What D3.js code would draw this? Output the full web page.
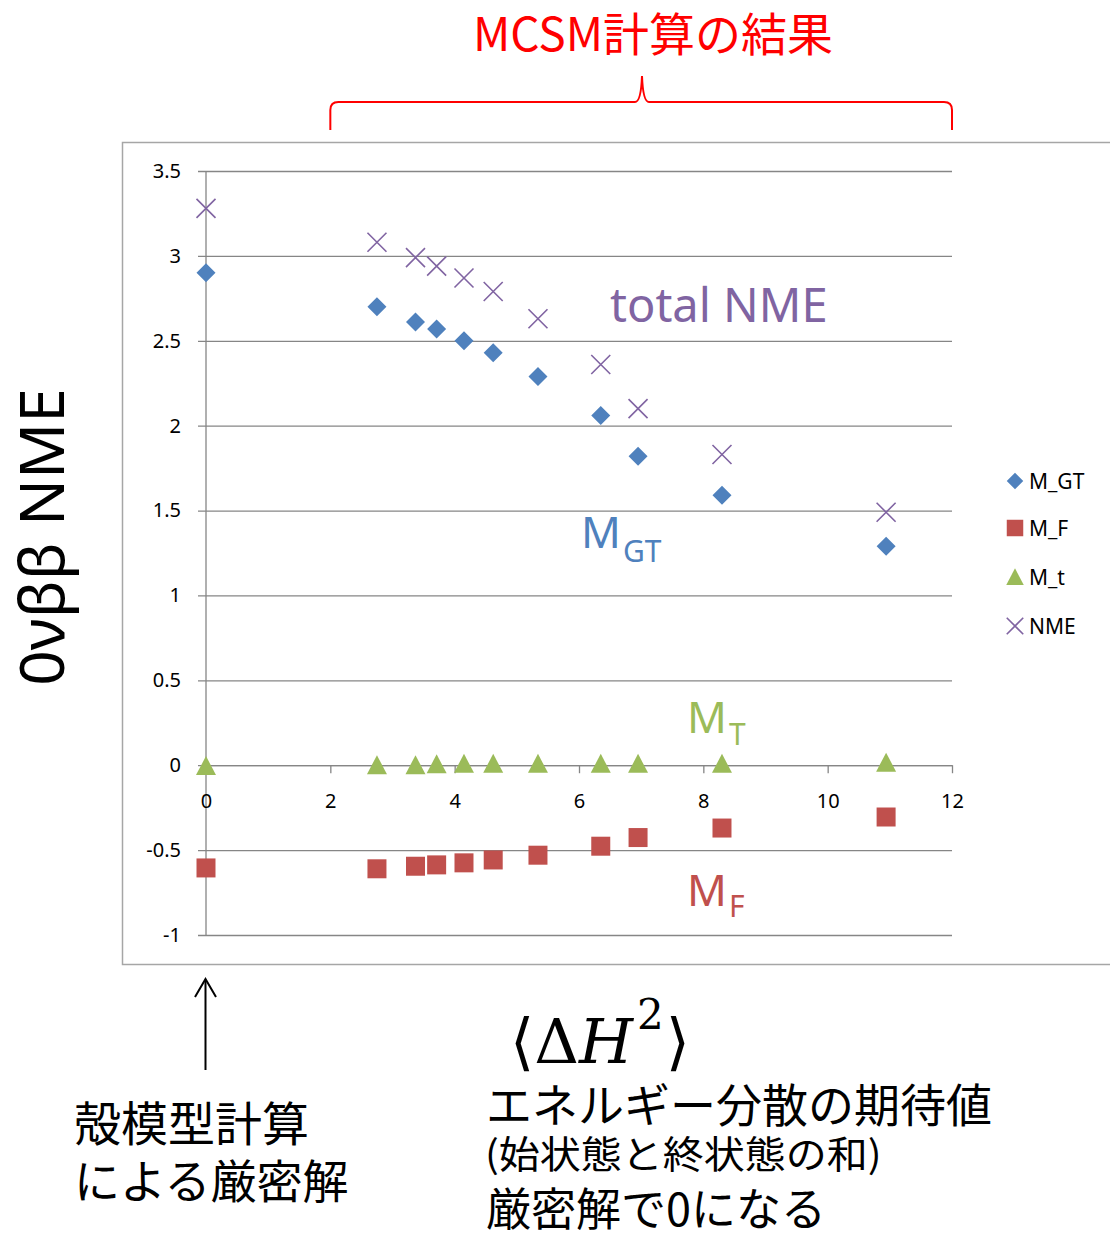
<!DOCTYPE html>
<html lang="ja">
<head>
<meta charset="utf-8">
<title>0vbb NME vs energy variance</title>
<script src="https://d3js.org/d3.v7.min.js"></script>
<style>
  body { margin: 0; background: #fff; }
  text { font-family: "Noto Sans", "Noto Sans CJK JP", sans-serif; }
  .jp { font-family: "Noto Sans CJK JP", "Noto Sans", sans-serif; }
  .grid line { stroke: #868686; stroke-width: 1.3; }
  .axis path, .axis line { stroke: #868686; stroke-width: 1.3; }
  .axis text { font-size: 20px; fill: #000; }
</style>
</head>
<body>
<div id="chart"></div>
<script>
// data
var dH2  = [0, 2.75, 3.37, 3.71, 4.15, 4.62, 5.34, 6.35, 6.95, 8.30, 10.94];
var M_GT = [2.90, 2.70, 2.61, 2.57, 2.50, 2.43, 2.29, 2.06, 1.82, 1.59, 1.29];
var M_F  = [-0.605, -0.61, -0.595, -0.587, -0.575, -0.558, -0.53, -0.477, -0.426, -0.37, -0.305];
var M_t  = [-0.005, 0, 0, 0.005, 0.008, 0.008, 0.008, 0.008, 0.008, 0.008, 0.015];
var NME  = [3.28, 3.08, 2.99, 2.94, 2.87, 2.79, 2.63, 2.36, 2.10, 1.83, 1.49];
var yTicks = [-1, -0.5, 0, 0.5, 1, 1.5, 2, 2.5, 3, 3.5];
var xTicks = [0, 2, 4, 6, 8, 10, 12];
var seriesNames = ["M_GT", "M_F", "M_t", "NME"];

var w = 1110, h = 1238;
var svg = d3.select("#chart").append("svg").attr("width", w).attr("height", h);

var x = d3.scaleLinear().domain([0, 12]).range([206, 952]);
var y = d3.scaleLinear().domain([-1, 3.5]).range([935, 171]);

// marker shapes (size = width in px)
var diamond = { draw: function(c, s) { var r = s / 2; c.moveTo(0, -r); c.lineTo(r, 0); c.lineTo(0, r); c.lineTo(-r, 0); c.closePath(); } };
var square = { draw: function(c, s) { c.rect(-s / 2, -s / 2, s, s); } };
var triangle = { draw: function(c, s) { c.moveTo(0, -s * 0.5); c.lineTo(s / 2, s * 0.45); c.lineTo(-s / 2, s * 0.45); c.closePath(); } };
var cross = { draw: function(c, s) { var r = s / 2; c.moveTo(-r, -r); c.lineTo(r, r); c.moveTo(r, -r); c.lineTo(-r, r); } };

var series = [
  { name: seriesNames[0], values: M_GT, color: "#4F81BD", type: diamond, size: 19, fill: true },
  { name: seriesNames[1], values: M_F, color: "#C0504D", type: square, size: 19, fill: true },
  { name: seriesNames[2], values: M_t, color: "#9BBB59", type: triangle, size: 20, fill: true },
  { name: seriesNames[3], values: NME, color: "#8064A2", type: cross, size: 19, fill: false }
];

// chart frame
svg.append("rect").attr("x", 122.5).attr("y", 142.5).attr("width", 1000).attr("height", 822)
  .attr("fill", "none").attr("stroke", "#A6A6A6").attr("stroke-width", 1.5);

// gridlines + y labels
var yAxis = d3.axisLeft(y).tickValues(yTicks).tickSize(-(952 - 198)).tickPadding(17).tickFormat(function(d) { return String(d); });
var gy = svg.append("g").attr("class", "axis grid").attr("transform", "translate(198,0)").call(yAxis);
gy.select(".domain").remove();

// vertical axis line
svg.append("line").attr("x1", 206).attr("x2", 206).attr("y1", y(3.5)).attr("y2", y(-1))
  .attr("stroke", "#868686").attr("stroke-width", 1.3);

// x axis through zero
var xAxis = d3.axisBottom(x).tickValues(xTicks).tickSize(8).tickSizeOuter(0).tickPadding(21);
svg.append("g").attr("class", "axis").attr("transform", "translate(0," + y(0) + ")").call(xAxis);

// points
series.forEach(function(s) {
  var sym = d3.symbol().type(s.type).size(s.size);
  svg.append("g").selectAll("path").data(s.values).enter().append("path")
    .attr("transform", function(d, i) { return "translate(" + x(dH2[i]) + "," + y(d) + ")"; })
    .attr("d", sym)
    .attr("fill", s.fill ? s.color : "none")
    .attr("stroke", s.fill ? "none" : s.color)
    .attr("stroke-width", 1.6);
});

// legend
var legend = svg.append("g").attr("transform", "translate(1015,0)");
var legendY = [481, 528, 577, 626];
series.forEach(function(s, i) {
  legend.append("path").attr("transform", "translate(0," + legendY[i] + ")")
    .attr("d", d3.symbol().type(s.type).size(s.size - 2.5))
    .attr("fill", s.fill ? s.color : "none")
    .attr("stroke", s.fill ? "none" : s.color).attr("stroke-width", 1.6);
  legend.append("text").attr("x", 14).attr("y", legendY[i]).attr("dy", "0.36em")
    .style("font-size", "21px").attr("fill", "#000").text(s.name);
});

// y axis title
svg.append("text").attr("transform", "translate(64,537) rotate(-90)").attr("text-anchor", "middle")
  .style("font-size", "62px").attr("fill", "#000").text("0νββ NME");

// title + brace
svg.append("text").attr("class", "jp").attr("x", 653).attr("y", 51).attr("text-anchor", "middle")
  .style("font-size", "46px").attr("fill", "#FF0000").text("MCSM計算の結果");
var bx0 = x(2), bx1 = x(12), bm = 642;
var brace = d3.path();
brace.moveTo(bx0, 130); brace.lineTo(bx0, 110);
brace.quadraticCurveTo(bx0, 102, bx0 + 8, 102);
brace.lineTo(bm - 7, 102);
brace.quadraticCurveTo(bm - 1, 102, bm, 76);
brace.quadraticCurveTo(bm + 1, 102, bm + 7, 102);
brace.lineTo(bx1 - 8, 102);
brace.quadraticCurveTo(bx1, 102, bx1, 110);
brace.lineTo(bx1, 130);
svg.append("path").attr("d", brace.toString()).attr("fill", "none").attr("stroke", "#FF0000").attr("stroke-width", 2);

// series annotations
svg.append("text").attr("x", 610).attr("y", 322).style("font-size", "47px").attr("fill", "#8064A2").text("total NME");
function subLabel(xp, yp, main, sub, color, subDy) {
  var t = svg.append("text").attr("x", xp).attr("y", yp).style("font-size", "44px").attr("fill", color);
  t.append("tspan").text(main);
  t.append("tspan").attr("dy", subDy).attr("dx", 2).style("font-size", "30px").text(sub);
}
subLabel(581, 548, "M", "GT", "#4F81BD", 14);
subLabel(687, 733, "M", "T", "#9BBB59", 12);
subLabel(687, 906, "M", "F", "#C0504D", 11);

// arrow to exact result
svg.append("line").attr("x1", 205.5).attr("x2", 205.5).attr("y1", 1070).attr("y2", 980)
  .attr("stroke", "#000").attr("stroke-width", 2);
svg.append("path").attr("d", "M195,997 L205.5,979 L216,997").attr("fill", "none").attr("stroke", "#000").attr("stroke-width", 2);

svg.append("text").attr("class", "jp").attr("x", 74).attr("y", 1141).style("font-size", "47px").attr("fill", "#000").text("殻模型計算");
svg.append("text").attr("class", "jp").attr("x", 74).attr("y", 1198).style("font-size", "46px").attr("fill", "#000").text("による厳密解");

// <dH^2>
var math = svg.append("text").attr("x", 510).attr("y", 1063).style("font-family", "'DejaVu Serif', serif").style("font-size", "62px").attr("fill", "#000");
math.append("tspan").text("⟨Δ");
math.append("tspan").style("font-style", "italic").text("H");
math.append("tspan").attr("dy", -34).attr("dx", 4).style("font-size", "42px").text("2");
math.append("tspan").attr("dy", 34).attr("dx", 2).text("⟩");

svg.append("text").attr("class", "jp").attr("x", 486).attr("y", 1122).style("font-size", "46px").attr("fill", "#000").text("エネルギー分散の期待値");
svg.append("text").attr("class", "jp").attr("transform", "translate(485,1168) scale(1,0.92)").style("font-size", "41px").attr("fill", "#000").text("(始状態と終状態の和)");
svg.append("text").attr("class", "jp").attr("x", 486).attr("y", 1226).style("font-size", "45px").attr("fill", "#000").text("厳密解で0になる");
</script>
</body>
</html>
